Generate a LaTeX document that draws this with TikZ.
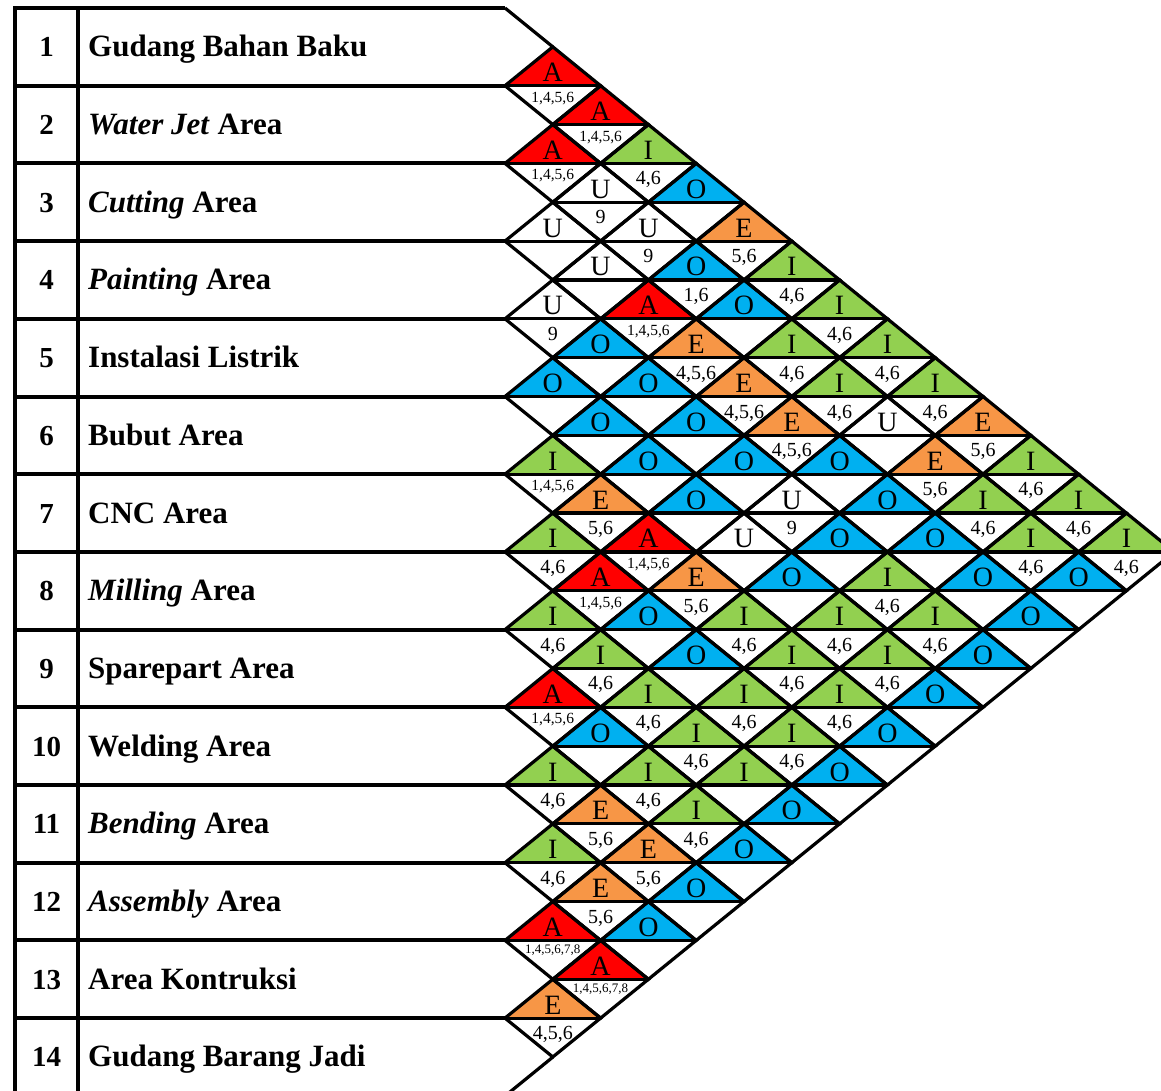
\documentclass[tikz,border=0pt]{standalone}
\usepackage{fontspec}
\setmainfont{Liberation Serif}
\definecolor{cA}{HTML}{FF0000}
\definecolor{cE}{HTML}{F79646}
\definecolor{cI}{HTML}{92D050}
\definecolor{cO}{HTML}{00B0F0}
\definecolor{cU}{HTML}{FFFFFF}
\tikzset{
 tbl/.style={line width=4pt},
 tri/.style={line width=3.2pt, line join=miter},
 lettxt/.style={font=\fontsize{28}{28}\selectfont, inner sep=0pt, anchor=base},
 rn/.style={font=\fontsize{20}{20}\selectfont, inner sep=0pt, anchor=base, yshift=-21.5pt},
 rs/.style={font=\fontsize{15.5}{15.5}\selectfont, inner sep=0pt, anchor=base, yshift=-16.5pt},
 rt/.style={font=\fontsize{13}{13}\selectfont, inner sep=0pt, anchor=base, yshift=-13pt},
 dnum/.style={font=\bfseries\fontsize{29}{29}\selectfont, inner sep=0pt, anchor=base},
 dname/.style={font=\bfseries\fontsize{31}{31}\selectfont, inner sep=0pt, anchor=base west},
}
\begin{document}
\begin{tikzpicture}[x=1pt,y=-1pt]
\useasboundingbox (0,0) rectangle (1161,1090);
\clip (0,0) rectangle (1161,1090);
\fill[white] (0,0) rectangle (1161,1090);
\def\HW{47.8}
\def\HH{38.85}
% filled top triangles
\foreach \i/\j/\l in {1/2/A, 1/3/A, 2/3/A, 1/4/I, 2/4/U, 1/5/O, 3/4/U, 2/5/U, 1/6/E, 3/5/U, 2/6/O, 1/7/I, 4/5/U, 3/6/A, 2/7/O, 1/8/I, 4/6/O, 3/7/E, 2/8/I, 1/9/I, 5/6/O, 4/7/O, 3/8/E, 2/9/I, 1/10/I, 5/7/O, 4/8/O, 3/9/E, 2/10/U, 1/11/E, 6/7/I, 5/8/O, 4/9/O, 3/10/O, 2/11/E, 1/12/I, 6/8/E, 5/9/O, 4/10/U, 3/11/O, 2/12/I, 1/13/I, 7/8/I, 6/9/A, 5/10/U, 4/11/O, 3/12/O, 2/13/I, 1/14/I, 7/9/A, 6/10/E, 5/11/O, 4/12/I, 3/13/O, 2/14/O, 8/9/I, 7/10/O, 6/11/I, 5/12/I, 4/13/I, 3/14/O, 8/10/I, 7/11/O, 6/12/I, 5/13/I, 4/14/O, 9/10/A, 8/11/I, 7/12/I, 6/13/I, 5/14/O, 9/11/O, 8/12/I, 7/13/I, 6/14/O, 10/11/I, 9/12/I, 8/13/I, 7/14/O, 10/12/E, 9/13/I, 8/14/O, 11/12/I, 10/13/E, 9/14/O, 11/13/E, 10/14/O, 12/13/A, 11/14/O, 12/14/A, 13/14/E}{
  \pgfmathsetmacro\cx{505+(\j-\i)*\HW}
  \pgfmathsetmacro\cy{8+(\i+\j-1)*\HH}
  \fill[fill=c\l] ({\cx-\HW},\cy) -- (\cx,{\cy-\HH}) -- ({\cx+\HW},\cy) -- cycle;
}
% table
\draw[tbl] (15,1100) -- (15,8) -- (505,8);
\draw[tbl] (78,8) -- (78,1100);
\foreach \k in {1,...,13}{
  \draw[tbl] (15,{8+\k*77.7}) -- (505,{8+\k*77.7});
}
% outlines of diamonds and letters
\foreach \i/\j/\l in {1/2/A, 1/3/A, 2/3/A, 1/4/I, 2/4/U, 1/5/O, 3/4/U, 2/5/U, 1/6/E, 3/5/U, 2/6/O, 1/7/I, 4/5/U, 3/6/A, 2/7/O, 1/8/I, 4/6/O, 3/7/E, 2/8/I, 1/9/I, 5/6/O, 4/7/O, 3/8/E, 2/9/I, 1/10/I, 5/7/O, 4/8/O, 3/9/E, 2/10/U, 1/11/E, 6/7/I, 5/8/O, 4/9/O, 3/10/O, 2/11/E, 1/12/I, 6/8/E, 5/9/O, 4/10/U, 3/11/O, 2/12/I, 1/13/I, 7/8/I, 6/9/A, 5/10/U, 4/11/O, 3/12/O, 2/13/I, 1/14/I, 7/9/A, 6/10/E, 5/11/O, 4/12/I, 3/13/O, 2/14/O, 8/9/I, 7/10/O, 6/11/I, 5/12/I, 4/13/I, 3/14/O, 8/10/I, 7/11/O, 6/12/I, 5/13/I, 4/14/O, 9/10/A, 8/11/I, 7/12/I, 6/13/I, 5/14/O, 9/11/O, 8/12/I, 7/13/I, 6/14/O, 10/11/I, 9/12/I, 8/13/I, 7/14/O, 10/12/E, 9/13/I, 8/14/O, 11/12/I, 10/13/E, 9/14/O, 11/13/E, 10/14/O, 12/13/A, 11/14/O, 12/14/A, 13/14/E}{
  \pgfmathsetmacro\cx{505+(\j-\i)*\HW}
  \pgfmathsetmacro\cy{8+(\i+\j-1)*\HH}
  \draw[tri] ({\cx-\HW},\cy) -- (\cx,{\cy-\HH}) -- ({\cx+\HW},\cy) -- (\cx,{\cy+\HH}) -- cycle;
  \draw[tri] ({\cx-\HW},\cy) -- ({\cx+\HW},\cy);
  \node[lettxt] (L\i-\j) at (\cx,{\cy-4}) {\l};
}
% reasons
\foreach \i/\j/\r/\s in {1/2/{1,4,5,6}/rs, 1/3/{1,4,5,6}/rs, 2/3/{1,4,5,6}/rs, 1/4/{4,6}/rn, 2/4/9/rn, 2/5/9/rn, 1/6/{5,6}/rn, 2/6/{1,6}/rn, 1/7/{4,6}/rn, 4/5/9/rn, 3/6/{1,4,5,6}/rs, 1/8/{4,6}/rn, 3/7/{4,5,6}/rn, 2/8/{4,6}/rn, 1/9/{4,6}/rn, 3/8/{4,5,6}/rn, 2/9/{4,6}/rn, 1/10/{4,6}/rn, 3/9/{4,5,6}/rn, 1/11/{5,6}/rn, 6/7/{1,4,5,6}/rs, 2/11/{5,6}/rn, 1/12/{4,6}/rn, 6/8/{5,6}/rn, 4/10/9/rn, 2/12/{4,6}/rn, 1/13/{4,6}/rn, 7/8/{4,6}/rn, 6/9/{1,4,5,6}/rs, 2/13/{4,6}/rn, 1/14/{4,6}/rn, 7/9/{1,4,5,6}/rs, 6/10/{5,6}/rn, 4/12/{4,6}/rn, 8/9/{4,6}/rn, 6/11/{4,6}/rn, 5/12/{4,6}/rn, 4/13/{4,6}/rn, 8/10/{4,6}/rn, 6/12/{4,6}/rn, 5/13/{4,6}/rn, 9/10/{1,4,5,6}/rs, 8/11/{4,6}/rn, 7/12/{4,6}/rn, 6/13/{4,6}/rn, 8/12/{4,6}/rn, 7/13/{4,6}/rn, 10/11/{4,6}/rn, 9/12/{4,6}/rn, 10/12/{5,6}/rn, 9/13/{4,6}/rn, 11/12/{4,6}/rn, 10/13/{5,6}/rn, 11/13/{5,6}/rn, 12/13/{1,4,5,6,7,8}/rt, 12/14/{1,4,5,6,7,8}/rt, 13/14/{4,5,6}/rn}{
  \pgfmathsetmacro\cx{505+(\j-\i)*\HW}
  \pgfmathsetmacro\cy{8+(\i+\j-1)*\HH}
  \node[\s] (R\i-\j) at (\cx,\cy) {\r};
}
% outer border segments
\coordinate (topl) at (505,8);
\coordinate (topv) at (552.8,46.85);
\coordinate (botv) at (552.8,1057.1);
\coordinate (botl) at (505,1096);
\draw[tri] (topl) -- (topv);
\draw[tri] (botv) -- (botl);
% department labels
\foreach \k/\t in {1/{Gudang Bahan Baku}, 2/{\textit{Water Jet} Area}, 3/{\textit{Cutting} Area}, 4/{\textit{Painting} Area}, 5/{Instalasi Listrik}, 6/{Bubut Area}, 7/{CNC Area}, 8/{\textit{Milling} Area}, 9/{Sparepart Area}, 10/{Welding Area}, 11/{\textit{Bending} Area}, 12/{\textit{Assembly} Area}, 13/{Area Kontruksi}, 14/{Gudang Barang Jadi}}{
  \pgfmathsetmacro\rc{8+(\k-0.5)*77.7}
  \node[dnum] (N\k) at (46.5,{\rc+10}) {\k};
  \node[dname] (D\k) at (88,{\rc+10}) {\t};
}
\end{tikzpicture}
\end{document}
